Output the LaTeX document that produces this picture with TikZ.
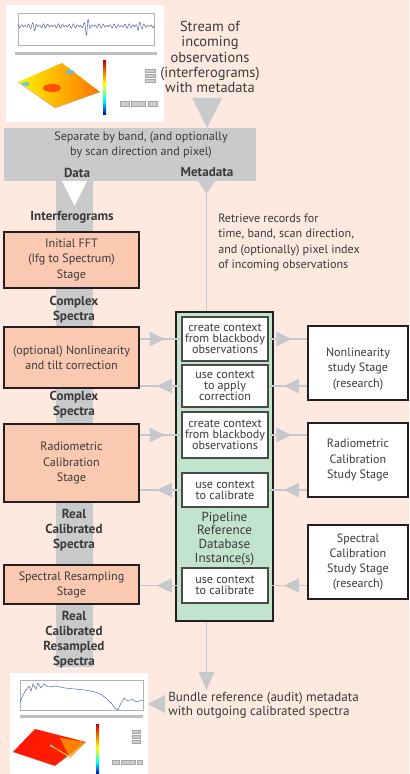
\documentclass[tikz,border=0pt]{standalone}
\usepackage{fontspec}
\setmainfont{PT Sans}
\usetikzlibrary{arrows.meta}
\usetikzlibrary{decorations.markings}

\definecolor{bgpeach}{HTML}{FDE9E0}
\definecolor{stagefill}{HTML}{FBC9B1}
\definecolor{pipefill}{HTML}{C3E4CC}
\definecolor{bandgray}{HTML}{C9CACC}
\definecolor{linkgray}{HTML}{C6C9CC}
\definecolor{edgedark}{HTML}{231F20}
\definecolor{edgegray}{HTML}{4A4A4A}
\definecolor{textdark}{HTML}{3A3A3A}
\definecolor{plotblue}{HTML}{3F4FA8}

\begin{document}
\begin{tikzpicture}[x=0.025cm, y=-0.025cm,
              every node/.style={text=textdark, align=center, inner sep=0pt,
              font=\fontsize{8.6}{10.7}\selectfont},
              stage/.style={draw=edgedark, line width=1.8pt, fill=stagefill,
              minimum width=3.375cm},
              study/.style={draw=edgedark, line width=1.8pt, fill=white,
              minimum width=2.5cm, minimum height=1.85cm},
              ctxbox/.style={draw=edgegray, line width=1.1pt, fill=white,
              minimum width=2.15cm, font=\fontsize{8.6}{7.9}\selectfont},
              flowlbl/.style={font=\bfseries\fontsize{9.3}{10.7}\selectfont},
              link/.style={draw=linkgray, line width=0.8pt, postaction={decorate},
              decoration={markings, mark=at position 0.6 with
              {\arrow{Triangle[length=0.38cm,width=0.36cm]}}}}]
    \useasboundingbox (0,0) rectangle (409,774);
    \fill[bgpeach] (0,0) rectangle (409,774);

    % incoming screenshot
    \fill[white] (6,5) rectangle (164,122);
    \draw[gray!60, line width=0.3pt] (18,13) rectangle (154,45);
    \draw[plotblue, line width=0.3pt] plot[domain=18:154, samples=300]
        (\x, {26 + (2.2 + 10/(1+((\x-87)/1.2)^2) + 5/(1+((\x-35)/1.5)^2)
        + 5/(1+((\x-138)/1.5)^2))*(0.6*sin(\x*97) + 0.4*cos(\x*71))});
    \fill[gray!50] (15,52) rectangle (157,55);
    \shade[left color=yellow!90!orange, right color=orange!90!red]
        (18,82) -- (62,63) -- (100,92) -- (55,108) -- cycle;
    \fill[red!75!orange, opacity=0.7] (52,88) ellipse [x radius=9, y radius=4];
    \fill[cyan!70, opacity=0.8] (70,72) ellipse [x radius=5, y radius=2];
    \fill[cyan!70, opacity=0.8] (26,84) ellipse [x radius=4, y radius=2];
    \draw[gray!60, line width=0.3pt] (18,82) -- (55,108) -- (100,92);
    \shade[top color=red!80!black, bottom color=yellow] (103,61) rectangle (106,84);
    \shade[top color=yellow, bottom color=cyan] (103,84) rectangle (106,100);
    \shade[top color=cyan, bottom color=blue!70!black] (103,100) rectangle (106,115);
    \foreach \y in {71,76,81}
        \draw[gray!70, fill=gray!40, line width=0.2pt] (145,\y-1.5) rectangle (155,\y+1.5);
    \draw[gray!70, fill=gray!40, line width=0.2pt] (120,101) rectangle (129,106);
    \draw[gray!70, fill=gray!40, line width=0.2pt] (131,101) rectangle (145,106);
    \draw[gray!70, fill=gray!40, line width=0.2pt] (148,101) rectangle (157,106);

    % outgoing screenshot
    \fill[white] (10,673) rectangle (148,774);
    \draw[gray!60, line width=0.3pt] (20,680) rectangle (143,710);
    \draw[plotblue, line width=0.3pt] plot coordinates {(20,702) (23,695) (26,690)
        (29,686) (31,691) (33,684) (36,689) (38,683) (41,688) (44,684) (48,687)
        (55,686) (65,688) (75,689) (85,690) (95,692) (102,695) (108,700)
        (112,704) (115,708) (118,710) (121,703) (124,698) (128,701) (132,699)
        (136,702) (143,700)};
    \fill[gray!50] (20,715) rectangle (143,718);
    \shade[left color=red!85!orange, right color=red!70!orange]
        (13,752) -- (35,729) -- (86,742) -- (55,766) -- cycle;
    \fill[orange!80!yellow, opacity=0.8] (60,738) -- (86,742) -- (70,758) -- cycle;
    \draw[yellow!90!orange, line width=0.6pt] (50,745) -- (70,757);
    \fill[cyan!70] (52,746) circle [radius=1.5];
    \draw[gray!60, line width=0.3pt] (13,752) -- (55,766) -- (86,742);
    \shade[top color=red!80!black, bottom color=yellow] (96,724) rectangle (99,748);
    \shade[top color=yellow, bottom color=cyan] (96,748) rectangle (99,762);
    \shade[top color=cyan, bottom color=blue!70!black] (96,762) rectangle (99,774);
    \foreach \y in {732,737,742}
        \draw[gray!70, fill=gray!40, line width=0.2pt] (132,\y-1.5) rectangle (140,\y+1.5);
    \draw[gray!70, fill=gray!40, line width=0.2pt] (112,760) rectangle (119,764);
    \draw[gray!70, fill=gray!40, line width=0.2pt] (121,760) rectangle (135,764);
    \draw[gray!70, fill=gray!40, line width=0.2pt] (137,760) rectangle (142,764);

    % band and data column
    \fill[bandgray] (56,181) rectangle (93,667);
    \node[fill=bandgray, minimum width=6.3cm, minimum height=1.325cm] (band) at (130,154.5) {};
    \fill[bandgray] (192,98) -- (222,98) -- (207,128) -- cycle;
    \fill[white] (62,181) -- (87,181) -- (74.5,206) -- cycle;
    \fill[bandgray] (198,181) -- (215,181) -- (206.5,194) -- cycle;

    \node[font=\fontsize{10.3}{10.8}\selectfont] (stream) at (210,57)
        {Stream of\\incoming\\observations\\(interferograms)\\with metadata};
    \node (septxt) at (141,145.5) {Separate by band, (and optionally\\by scan direction and pixel)};
    \node[flowlbl] (datalbl) at (77,173) {Data};
    \node[flowlbl] (metalbl) at (207,172) {Metadata};
    \node[flowlbl] (ifglbl) at (72,217) {Interferograms};
    \node[align=left, anchor=west] (retrieve) at (218,242.5)
        {Retrieve records for\\time, band, scan direction,\\and (optionally) pixel index\\of incoming observations};

    \node[stage, minimum height=1.4cm] (fft) at (71.5,260) {Initial FFT\\(Ifg to Spectrum)\\Stage};
    \node[stage, minimum height=1.525cm] (nonlin) at (71.5,357.5) {(optional) Nonlinearity\\and tilt correction};
    \node[stage, minimum height=1.95cm] (radio) at (71.5,463) {Radiometric\\Calibration\\Stage};
    \node[stage, minimum height=0.975cm] (resamp) at (71.5,584.5) {Spectral Resampling\\Stage};

    \node[flowlbl] (cspec) at (74,309.5) {Complex\\Spectra};
    \node[flowlbl] (cspectwo) at (74,404.5) {Complex\\Spectra};
    \node[flowlbl] (rcspec) at (74,530) {Real\\Calibrated\\Spectra};
    \node[flowlbl] (rcrspec) at (74,639.5) {Real\\Calibrated\\Resampled\\Spectra};

    \node[draw=edgedark, line width=1.8pt, fill=pipefill, minimum width=2.425cm,
          minimum height=7.725cm] (pipe) at (224.5,466.5) {};
    \node[ctxbox, minimum height=1.1cm] (ctxnl) at (225,339) {create context\\from blackbody\\observations};
    \node[ctxbox, minimum height=1.05cm] (usenl) at (225,386) {use context\\to apply\\correction};
    \node[ctxbox, minimum height=1.15cm] (ctxrad) at (225,435) {create context\\from blackbody\\observations};
    \node[ctxbox, minimum height=0.85cm] (userad) at (225,490) {use context\\to calibrate};
    \node[ctxbox, minimum height=0.875cm] (usespec) at (225,585.5) {use context\\to calibrate};
    \node[font=\fontsize{9.3}{9.7}\selectfont] (pipelbl) at (224.5,538.5)
        {Pipeline\\Reference\\Database\\Instance(s)};

    \node[study] (nlstudy) at (358,363) {};
    \node (nltxt) at (358,369) {Nonlinearity\\study Stage\\(research)};
    \node[study] (radstudy) at (358,460) {Radiometric\\Calibration\\Study Stage};
    \node[study] (specstudy) at (358,562) {Spectral\\Calibration\\Study Stage\\(research)};

    \path [link] (nonlin.east |- ctxnl) -- (ctxnl.west);
    \path [link] (ctxnl.east) -- (ctxnl -| nlstudy.west);
    \path [link] (usenl -| nlstudy.west) -- (usenl.east);
    \path [link] (usenl.west) -- (usenl -| nonlin.east);
    \path [link] (radio.east |- ctxrad) -- (ctxrad.west);
    \path [link] (ctxrad.east) -- (ctxrad -| radstudy.west);
    \path [link] (userad -| radstudy.west) -- (userad.east);
    \path [link] (userad.west) -- (userad -| radio.east);
    \path [link] (usespec -| specstudy.west) -- (usespec.east);
    \path [link] (usespec.west) -- (usespec -| resamp.east);

    \coordinate (mdtip) at (206.5,194);
    \coordinate (mdend) at (206.5,690);
    \draw[linkgray, line width=0.8pt] (mdtip) -- (mdtip |- pipe.north);
    \draw[linkgray, line width=0.8pt, -{Triangle[length=0.45cm,width=0.38cm]}]
        (mdend |- pipe.south) -- (mdend);

    \node[align=left, anchor=west, font=\fontsize{9.3}{10}\selectfont] (bundle) at (168,705)
        {Bundle reference (audit) metadata\\with outgoing calibrated spectra};
    \fill[linkgray] (148,704) -- (165,695) -- (165,713) -- cycle;
\end{tikzpicture}
\end{document}
